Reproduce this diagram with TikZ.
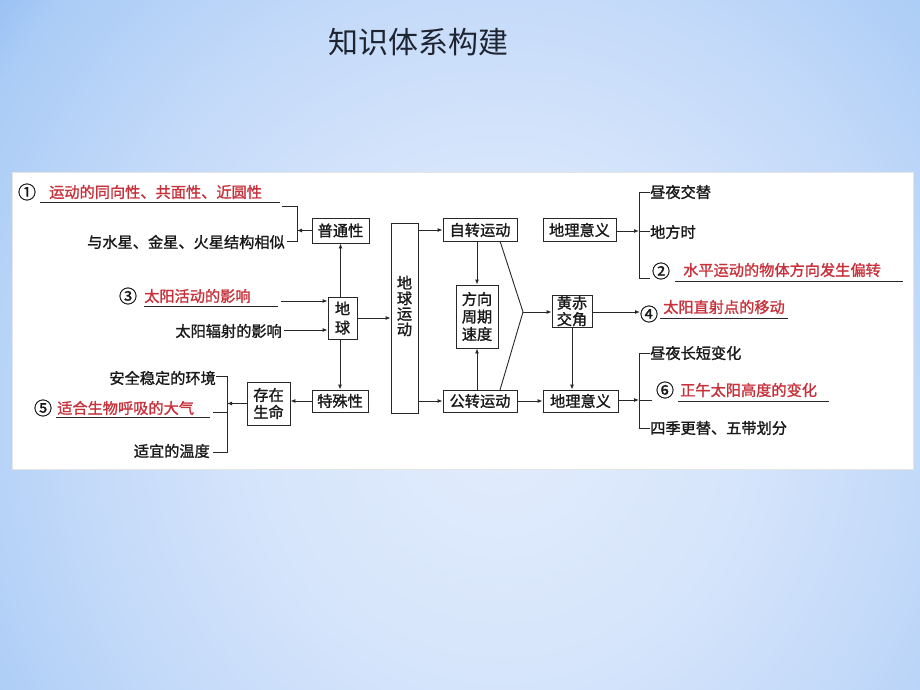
\documentclass[tikz,border=0pt]{standalone}
\usepackage{fontspec}
\setmainfont{Noto Sans CJK SC}
\newfontfamily\cjkb{Noto Sans CJK SC}[FakeBold=1.3]
\usetikzlibrary{arrows.meta}
\definecolor{bgA}{RGB}{226,236,252}
\definecolor{bgB}{RGB}{214,229,251}
\definecolor{bgC}{RGB}{194,217,249}
\definecolor{bgD}{RGB}{170,204,246}
\definecolor{bgE}{RGB}{115,165,237}
\definecolor{bgF}{RGB}{80,140,230}
\definecolor{bgG}{RGB}{70,130,225}
\definecolor{lc}{RGB}{40,40,40}
\definecolor{tc}{RGB}{25,25,25}
\definecolor{rc}{RGB}{200,48,58}
\definecolor{ttc}{RGB}{30,36,48}
\pgfdeclareradialshading{bgsh}{\pgfpoint{0bp}{0bp}}{color(0bp)=(bgA); color(9bp)=(bgB); color(16bp)=(bgC); color(22bp)=(bgD); color(29bp)=(bgE); color(36bp)=(bgF); color(50bp)=(bgG)}
\newcommand\dfont{\cjkb\fontsize{15.2}{17}\selectfont}
\begin{document}
\begin{tikzpicture}[x=1pt,y=-1pt,
  line/.style={draw=lc,line width=0.9pt},
  arr/.style={line,-{Latex[length=5pt,width=4pt]}},
  box/.style={draw=lc,line width=0.9pt,fill=white,inner sep=0pt,font=\dfont,text=tc,align=center},
  lbl/.style={inner sep=0pt,font=\dfont,text=tc},
  numb/.style={inner sep=0pt,font=\cjkb\fontsize{18}{18}\selectfont,text=tc},
  redtxt/.style={inner sep=0pt,font=\dfont,text=rc},
  ul/.style={draw=lc,line width=0.8pt}]
\useasboundingbox (0,0) rectangle (920,690);
% background
\fill[bgG] (0,0) rectangle (920,690);
\begin{scope}
\clip (0,0) rectangle (920,690);
\shade[shading=bgsh] (500,420) ellipse [x radius=670pt, y radius=710pt];
\end{scope}
% title
\node[inner sep=0pt,text=ttc,font=\fontsize{30}{30}\selectfont] (title) at (418,42) {知识体系构建};
% panel
\fill[white] (12,172) rectangle (913,469);
\draw[black!10,line width=0.6pt] (12,172) rectangle (913,469);

% boxes
\node[box,minimum width=57pt,minimum height=25pt] (pt) at (340.5,230.5) {普通性};
\node[box,minimum width=27pt,minimum height=190pt] (dqyd) at (404.5,318) {};
\node[inner sep=0pt,font=\cjkb\fontsize{15.2}{15.5}\selectfont,text=tc,align=center] (dqydt) at (404.5,306) {地\\球\\运\\动};
\node[box,minimum width=74pt,minimum height=23pt] (zz) at (480,230) {自转运动};
\node[box,minimum width=73pt,minimum height=23pt] (dl1) at (579.5,230) {地理意义};
\node[box,minimum width=42pt,minimum height=63pt,font=\cjkb\fontsize{15.2}{17.5}\selectfont] (fx) at (477,316.5) {方向\\周期\\速度};
\node[box,minimum width=40pt,minimum height=32pt,font=\cjkb\fontsize{15.2}{16.5}\selectfont] (hc) at (572,311) {黄赤\\交角};
\node[box,minimum width=74pt,minimum height=22pt] (gz) at (480,401) {公转运动};
\node[box,minimum width=75pt,minimum height=22pt] (dl2) at (580.5,401) {地理意义};
\node[box,minimum width=29pt,minimum height=42pt,font=\cjkb\fontsize{15.2}{19}\selectfont] (dq) at (342.5,318) {地\\球};
\node[box,minimum width=56pt,minimum height=22pt] (ts) at (340,401) {特殊性};
\node[box,minimum width=43pt,minimum height=43pt,font=\cjkb\fontsize{15.2}{17}\selectfont] (cz) at (268.5,403.5) {存在\\生命};

% left-top texts
\node[numb] (n1) at (27,192) {①};
\node[redtxt,anchor=west] (t1) at (49,192) {运动的同向性、共面性、近圆性};
\draw[ul] (40,202) -- (280,202);
\node[lbl,anchor=east] (t2) at (285,242) {与水星、金星、火星结构相似};
\coordinate (b1a) at (282,206);
\coordinate (b1b) at (297,206);
\coordinate (b1c) at (297,241);
\coordinate (b1d) at (287,241);
\draw[line] (b1a) -- (b1b) -- (b1c) -- (b1d);
\draw[arr] (pt.west) -- (pt.west -| b1b);

\node[numb] (n3) at (128,296) {③};
\node[redtxt,anchor=west] (t3) at (144,296) {太阳活动的影响};
\draw[ul] (144,306) -- (278,306);
\coordinate (c3) at (281,301);
\draw[arr] (c3) -- (c3 -| dq.west);
\node[lbl,anchor=east] (t4) at (282,331) {太阳辐射的影响};
\coordinate (c4) at (284,330);
\draw[arr] (c4) -- (c4 -| dq.west);

% left-bottom
\node[lbl,anchor=east] (t5) at (216,378) {安全稳定的环境};
\node[numb] (n5) at (43,408) {⑤};
\node[redtxt,anchor=west] (t6) at (57,408) {适合生物呼吸的大气};
\draw[ul] (56,417) -- (210,417);
\node[lbl,anchor=east] (t7) at (210,451) {适宜的温度};
\coordinate (b2a) at (216,376);
\coordinate (b2b) at (227,376);
\coordinate (b2c) at (227,452);
\coordinate (b2d) at (213,452);
\coordinate (b2e) at (213,412);
\draw[line] (b2a) -- (b2b) -- (b2c) -- (b2d);
\draw[line] (b2e) -- (b2e -| b2b);
\draw[arr] (cz.west) -- (cz.west -| b2b);

% central connectors
\draw[arr] (dq.east) -- (dq.east -| dqyd.west);
\draw[arr] (dq.north -| pt.south) -- (pt.south);
\draw[arr] (dq.south -| ts.north) -- (ts.north);
\draw[arr] (ts.west) -- (ts.west -| cz.east);
\draw[arr] (dqyd.east |- zz.west) -- (zz.west);
\draw[arr] (dqyd.east |- gz.west) -- (gz.west);
\draw[arr] (zz.south -| fx.north) -- (fx.north);
\draw[arr] (gz.north -| fx.south) -- (fx.south);
\coordinate (m1) at (500,241);
\coordinate (m2) at (523,312);
\coordinate (m3) at (500,390);
\draw[line] (m1) -- (m2) -- (m3);
\draw[arr] (m2) -- (m2 -| hc.west);
\draw[arr] (hc.south) -- (hc.south |- dl2.north);
\draw[arr] (gz.east) -- (dl2.west);

% right: 4
\coordinate (c5) at (640,312);
\draw[arr] (hc.east |- c5) -- (c5);
\node[numb] (n4) at (649,314) {④};
\node[redtxt,anchor=west] (t8) at (663,307) {太阳直射点的移动};
\draw[ul] (660,318) -- (788,318);

% right-top bracket
\coordinate (b3a) at (650,192);
\coordinate (b3b) at (639,192);
\coordinate (b3c) at (639,278);
\coordinate (b3d) at (650,278);
\coordinate (b3m) at (639,231);
\coordinate (b3e) at (650,231);
\draw[line] (b3a) -- (b3b) -- (b3c) -- (b3d);
\draw[arr] (dl1.east |- b3m) -- (b3m);
\draw[line] (b3m) -- (b3e);
\node[lbl,anchor=west] (t9) at (650,192) {昼夜交替};
\node[lbl,anchor=west] (t10) at (650,232) {地方时};
\node[numb] (n2) at (661,271) {②};
\node[redtxt,anchor=west] (t11) at (683,270) {水平运动的物体方向发生偏转};
\draw[ul] (675,281) -- (903,281);

% right-bottom bracket
\coordinate (b4a) at (650,353);
\coordinate (b4b) at (639,353);
\coordinate (b4c) at (639,428);
\coordinate (b4d) at (650,428);
\coordinate (b4m) at (639,400);
\coordinate (b4e) at (652,400);
\draw[line] (b4a) -- (b4b) -- (b4c) -- (b4d);
\draw[arr] (dl2.east |- b4m) -- (b4m);
\draw[line] (b4m) -- (b4e);
\node[lbl,anchor=west] (t12) at (650,353) {昼夜长短变化};
\node[numb] (n6) at (665,390) {⑥};
\node[redtxt,anchor=west] (t13) at (680,390) {正午太阳高度的变化};
\draw[ul] (678,401) -- (829,401);
\node[lbl,anchor=west] (t14) at (650,428) {四季更替、五带划分};
\end{tikzpicture}
\end{document}
